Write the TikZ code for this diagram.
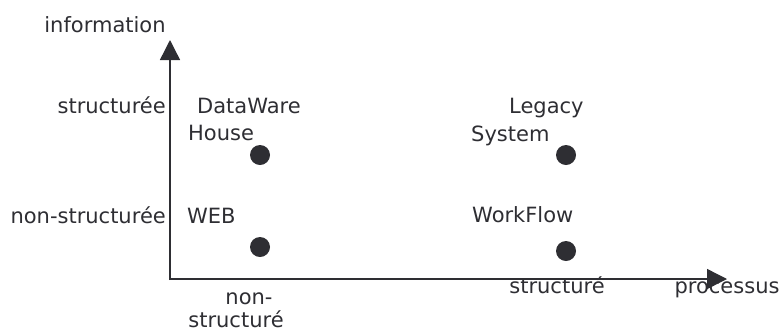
\documentclass[tikz,border=0pt]{standalone}
\usepackage{fontspec}
\setmainfont{DejaVu Sans}
\usetikzlibrary{arrows.meta}
\definecolor{ink}{HTML}{2E2E33}
\begin{document}
\begin{tikzpicture}[x=1pt,y=-1pt,
  lbl/.style={inner sep=0pt,text=ink,font=\fontsize{21}{25}\selectfont},
  axis/.style={draw=ink,line width=1.4pt,-{Triangle[length=20pt,width=20pt]}},
  dot/.style={circle,fill=ink,inner sep=0pt,minimum size=20pt}]
\useasboundingbox (0,0) rectangle (783,333);
% axes
\coordinate (o) at (170,279);
\coordinate (ytip) at (170,40);
\coordinate (xtip) at (727,279);
\draw[axis] (o|-0,280) -- (ytip);
\draw[axis] (169.3,279) -- (xtip);
% axis titles and ticks
\node[lbl,anchor=base] (info) at (105,32) {information};
\node[lbl,anchor=base] (proc) at (727,293) {processus};
\node[lbl,anchor=base east] (ystr) at (166,113) {structurée};
\node[lbl,anchor=base east] (ynon) at (166,223) {non-structurée};
\node[lbl,anchor=base] (xnon1) at (249,304) {non-};
\node[lbl,anchor=base] (xnon2) at (236,327) {structuré};
\node[lbl,anchor=base] (xstr) at (557,293) {structuré};
% points
\node[dot] (dw) at (260,155) {};
\node[dot] (web) at (260,247) {};
\node[dot] (leg) at (566,155) {};
\node[dot] (wf) at (566,251) {};
% point labels
\node[lbl,anchor=base west] (dw1) at (197,113) {DataWare};
\node[lbl,anchor=base west] (dw2) at (188,140) {House};
\node[lbl,anchor=base west] (web1) at (187,223) {WEB};
\node[lbl,anchor=base west] (leg1) at (509,113) {Legacy};
\node[lbl,anchor=base west] (leg2) at (471,141) {System};
\node[lbl,anchor=base west] (wf1) at (472,222) {WorkFlow};
\end{tikzpicture}
\end{document}
